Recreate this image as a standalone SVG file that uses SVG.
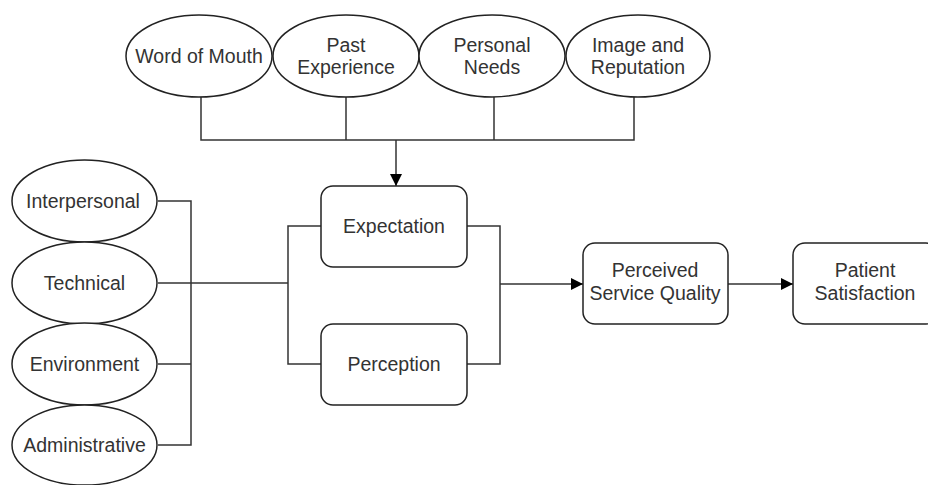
<svg xmlns="http://www.w3.org/2000/svg" width="928" height="485" viewBox="0 0 928 485">
  <style>
    .shape { fill: #ffffff; stroke: #222222; stroke-width: 1.5; }
    .label { font-family: "Liberation Sans", Arial, sans-serif; font-size: 19.5px; fill: #333333; text-anchor: middle; }
    .wire { fill: none; stroke: #333333; stroke-width: 1.5; }
  </style>
  <defs>
    <marker id="arrow" viewBox="0 0 12 12" refX="12" refY="6" markerWidth="12" markerHeight="12" markerUnits="userSpaceOnUse" orient="auto">
      <path d="M0,0 L12,6 L0,12 Z" fill="#000000"/>
    </marker>
  </defs>
  <rect width="928" height="485" fill="#ffffff"/>

  <!-- connectors -->
  <g id="connectors">
    <!-- top factors merge into Expectation -->
    <path class="wire" d="M201,97 V140 H634 V97"/>
    <path class="wire" d="M346,97 V140"/>
    <path class="wire" d="M494,97 V140"/>
    <path class="wire" d="M396,140 V186" stroke="#000" stroke-width="2" marker-end="url(#arrow)"/>
    <!-- left factors bracket -->
    <path class="wire" d="M158,201 H191 V445 H158"/>
    <path class="wire" d="M158,364 H191"/>
    <path class="wire" d="M158,283 H288"/>
    <!-- bracket around Expectation / Perception -->
    <path class="wire" d="M321,226 H288 V364 H321"/>
    <path class="wire" d="M467,226 H500 V364 H467"/>
    <path class="wire" d="M500,284 H583" marker-end="url(#arrow)"/>
    <path class="wire" d="M728,284 H793" stroke-width="2" marker-end="url(#arrow)"/>
  </g>

  <!-- top factors -->
  <g id="word-of-mouth">
    <ellipse class="shape" cx="199" cy="56" rx="73" ry="41"/>
    <text class="label" x="199" y="63">Word of Mouth</text>
  </g>
  <g id="past-experience">
    <ellipse class="shape" cx="346" cy="56" rx="73" ry="41"/>
    <text class="label" x="346" y="52">Past</text>
    <text class="label" x="346" y="74">Experience</text>
  </g>
  <g id="personal-needs">
    <ellipse class="shape" cx="492" cy="56" rx="73" ry="41"/>
    <text class="label" x="492" y="52">Personal</text>
    <text class="label" x="492" y="74">Needs</text>
  </g>
  <g id="image-reputation">
    <ellipse class="shape" cx="638" cy="56" rx="72" ry="41"/>
    <text class="label" x="638" y="52">Image and</text>
    <text class="label" x="638" y="74">Reputation</text>
  </g>

  <!-- left factors -->
  <g id="interpersonal">
    <ellipse class="shape" cx="84.5" cy="201" rx="72.5" ry="41"/>
    <text class="label" x="83" y="208">Interpersonal</text>
  </g>
  <g id="technical">
    <ellipse class="shape" cx="84.5" cy="283" rx="72.5" ry="41"/>
    <text class="label" x="84.5" y="290">Technical</text>
  </g>
  <g id="environment">
    <ellipse class="shape" cx="84.5" cy="364" rx="72.5" ry="41"/>
    <text class="label" x="84.5" y="371">Environment</text>
  </g>
  <g id="administrative">
    <ellipse class="shape" cx="84.5" cy="445" rx="72.5" ry="40"/>
    <text class="label" x="84.5" y="452">Administrative</text>
  </g>

  <!-- core boxes -->
  <g id="expectation">
    <rect class="shape" x="321" y="186" width="146" height="81" rx="12"/>
    <text class="label" x="394" y="233">Expectation</text>
  </g>
  <g id="perception">
    <rect class="shape" x="321" y="324" width="146" height="81" rx="12"/>
    <text class="label" x="394" y="371">Perception</text>
  </g>
  <g id="perceived-service-quality">
    <rect class="shape" x="583" y="243" width="145" height="81" rx="12"/>
    <text class="label" x="655" y="277">Perceived</text>
    <text class="label" x="655" y="300">Service Quality</text>
  </g>
  <g id="patient-satisfaction">
    <rect class="shape" x="793" y="243" width="145" height="81" rx="12"/>
    <text class="label" x="865" y="277">Patient</text>
    <text class="label" x="865" y="300">Satisfaction</text>
  </g>
</svg>
